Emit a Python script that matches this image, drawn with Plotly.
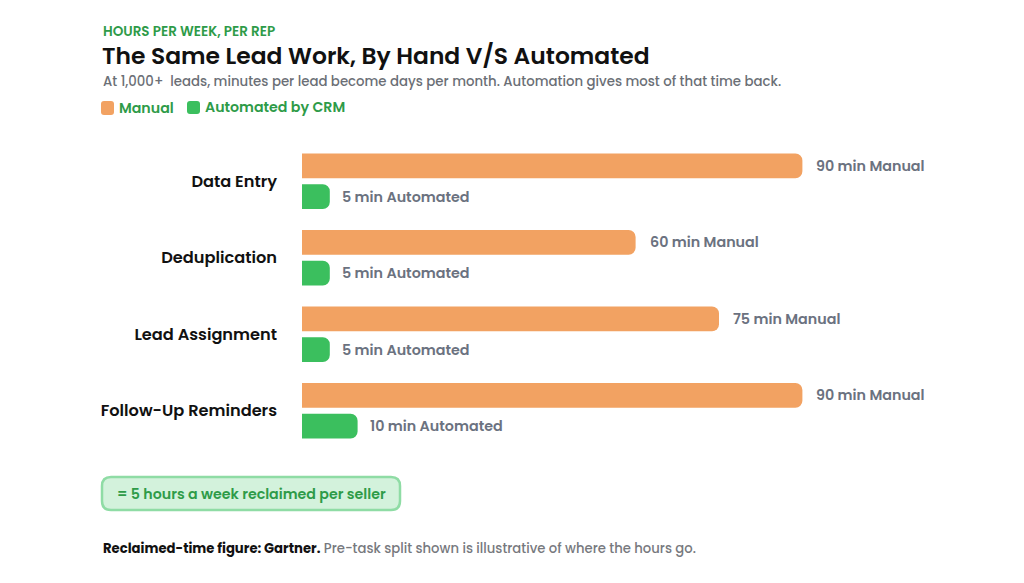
import plotly.graph_objects as go

# ---- data ----
categories = ["Data Entry", "Deduplication", "Lead Assignment", "Follow-Up Reminders"]
manual_min = [90, 60, 75, 90]
automated_min = [5, 5, 5, 10]

eyebrow = "HOURS PER WEEK, PER REP"
title = "The Same Lead Work, By Hand V/S Automated"
subtitle = "At 1,000+  leads, minutes per lead become days per month. Automation gives most of that time back."
callout = "= 5 hours a week reclaimed per seller"
source_bold = "Reclaimed-time figure: Gartner."
source_rest = " Pre-task split shown is illustrative of where the hours go."

ORANGE = "#F2A262"
GREEN = "#3BBF5E"
LABEL_GRAY = "#6B7280"
DARK_GREEN = "#2E9B48"
FONT = "Poppins, Inter, Noto Sans, sans-serif"

OFF = 8  # page body margin
W, H = 1024 - OFF, 583 - OFF
ML, MR, MT, MB = 302 - OFF, 22, 143 - OFF, 134
PW = W - ML - MR
PH = H - MT - MB
PX_PER_MIN = 5.56


def px(x):
    return (x - OFF - ML) / PW


def py(y):
    return (H - MB - (y - OFF)) / PH


ypos = list(range(len(categories)))

fig = go.Figure()
fig.add_trace(go.Bar(
    y=ypos, x=manual_min, orientation="h", name="Manual",
    marker=dict(color=ORANGE, line=dict(width=0)), hoverinfo="skip",
))
fig.add_trace(go.Bar(
    y=ypos, x=automated_min, orientation="h", name="Automated by CRM",
    marker=dict(color=GREEN, line=dict(width=0)), hoverinfo="skip",
))

annotations = []
for i, (m, a) in enumerate(zip(manual_min, automated_min)):
    annotations.append(dict(
        x=m, y=i, xref="x", yref="y", xanchor="left", yanchor="middle",
        xshift=12, yshift=15.5, showarrow=False,
        text=f"{m} min Manual",
        font=dict(family=FONT, size=14.3, color=LABEL_GRAY, weight=600),
    ))
    annotations.append(dict(
        x=a, y=i, xref="x", yref="y", xanchor="left", yanchor="middle",
        xshift=10, yshift=-15.5, showarrow=False,
        text=f"{a} min Automated",
        font=dict(family=FONT, size=14.3, color=LABEL_GRAY, weight=600),
    ))

# header texts
annotations += [
    dict(x=px(101), y=py(32), xref="paper", yref="paper", xanchor="left", yanchor="middle",
         showarrow=False, text=eyebrow,
         font=dict(family=FONT, size=13.5, color=DARK_GREEN, weight=600)),
    dict(x=px(100), y=py(56), xref="paper", yref="paper", xanchor="left", yanchor="middle",
         showarrow=False, text=title,
         font=dict(family=FONT, size=23.4, color="#111111", weight=600)),
    dict(x=px(101), y=py(81), xref="paper", yref="paper", xanchor="left", yanchor="middle",
         showarrow=False, text=subtitle,
         font=dict(family=FONT, size=13.3, color="#6B6F76", weight=500)),
    dict(x=px(117), y=py(108), xref="paper", yref="paper", xanchor="left", yanchor="middle",
         showarrow=False, text="Manual",
         font=dict(family=FONT, size=14.2, color=DARK_GREEN, weight=600)),
    dict(x=px(203), y=py(107), xref="paper", yref="paper", xanchor="left", yanchor="middle",
         showarrow=False, text="Automated by CRM",
         font=dict(family=FONT, size=14.2, color=DARK_GREEN, weight=600)),
    dict(x=px(251), y=py(493.5), xref="paper", yref="paper", xanchor="center", yanchor="middle",
         showarrow=False, text=callout,
         font=dict(family=FONT, size=14.2, color=DARK_GREEN, weight=600)),
    dict(x=px(101), y=py(548), xref="paper", yref="paper", xanchor="left", yanchor="middle",
         showarrow=False,
         text=f"<b>{source_bold}</b><span style='color:#77797E'>{source_rest}</span>",
         font=dict(family=FONT, size=13.2, color="#111111", weight=500)),
]


def rounded_rect(x0, y0, x1, y1, r):
    X0, X1 = px(x0), px(x1)
    Y0, Y1 = py(y0), py(y1)  # Y0 top (larger), Y1 bottom
    rx = r / PW
    ry = r / PH
    return (f"M {X0+rx},{Y0} L {X1-rx},{Y0} Q {X1},{Y0} {X1},{Y0-ry} "
            f"L {X1},{Y1+ry} Q {X1},{Y1} {X1-rx},{Y1} L {X0+rx},{Y1} "
            f"Q {X0},{Y1} {X0},{Y1+ry} L {X0},{Y0-ry} Q {X0},{Y0} {X0+rx},{Y0} Z")


shapes = [
    dict(type="path", xref="paper", yref="paper", path=rounded_rect(101, 101, 114, 115, 3),
         fillcolor=ORANGE, line=dict(width=0)),
    dict(type="path", xref="paper", yref="paper", path=rounded_rect(187, 101, 200, 114, 3),
         fillcolor=GREEN, line=dict(width=0)),
    dict(type="path", xref="paper", yref="paper", path=rounded_rect(102, 477, 400, 510, 9),
         fillcolor="#D3F2DC", line=dict(color="#8FDCA5", width=2.5)),
]

fig.update_layout(
    width=W, height=H,
    margin=dict(l=ML, r=MR, t=MT, b=MB, pad=0),
    paper_bgcolor="white", plot_bgcolor="white",
    barmode="group", bargap=0.195, bargroupgap=0.194, barcornerradius=7,
    showlegend=False,
    font=dict(family=FONT),
    xaxis=dict(range=[0, PW / PX_PER_MIN], visible=False, fixedrange=True),
    yaxis=dict(
        range=[len(categories) - 0.5, -0.5], tickmode="array",
        tickvals=ypos, ticktext=categories, showgrid=False, zeroline=False,
        showline=False, ticks="", ticklabelstandoff=24,
        tickfont=dict(family=FONT, size=16.2, color="#111111", weight=600),
        fixedrange=True,
    ),
    annotations=annotations,
    shapes=shapes,
    hovermode=False,
)

fig.write_html("out.html", config={"displayModeBar": False})
